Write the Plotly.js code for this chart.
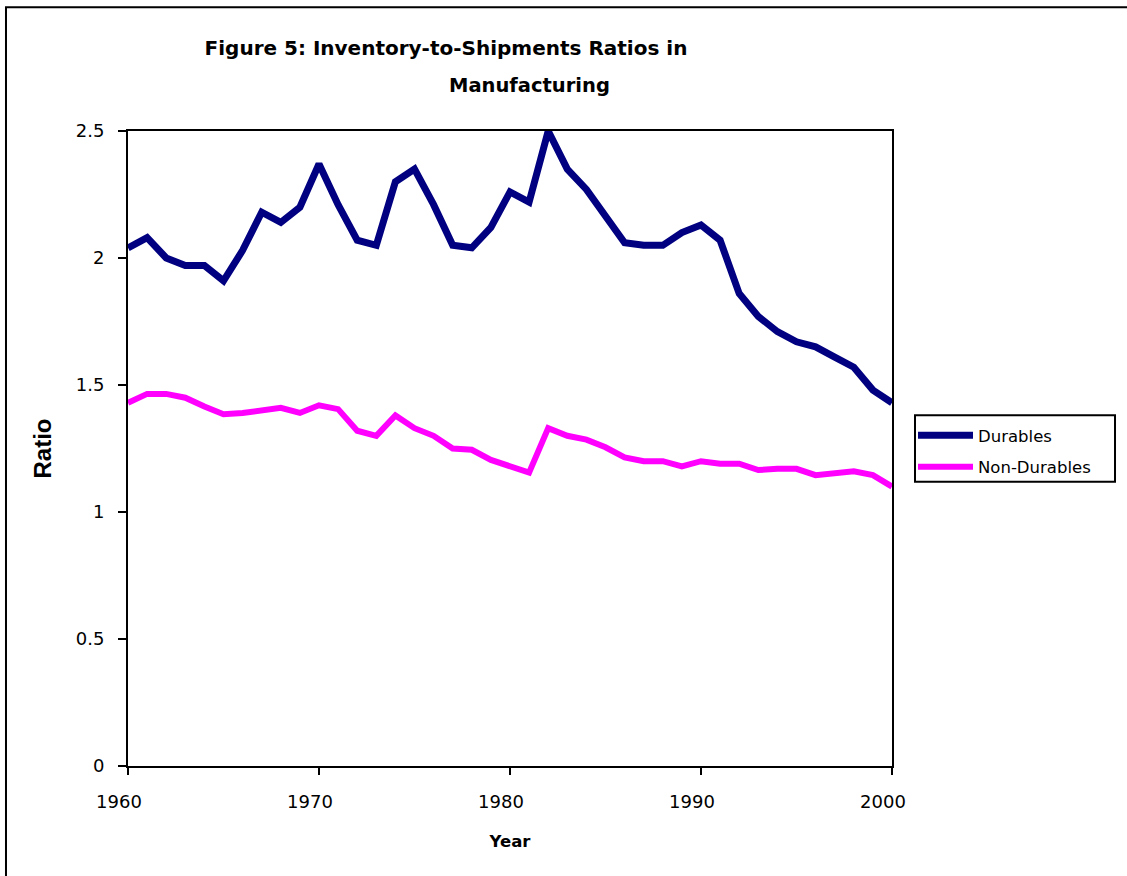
<!DOCTYPE html>
<html><head><meta charset="utf-8">
<script src="https://cdn.plot.ly/plotly-3.0.1.min.js"></script>
<style>html,body{margin:0;padding:0;background:#fff}#chart{width:1127px;height:876px}</style>
</head><body><div id="chart"></div>
<script>
const years = [1960,1961,1962,1963,1964,1965,1966,1967,1968,1969,
               1970,1971,1972,1973,1974,1975,1976,1977,1978,1979,
               1980,1981,1982,1983,1984,1985,1986,1987,1988,1989,
               1990,1991,1992,1993,1994,1995,1996,1997,1998,1999,2000];
const durables = [2.04,2.08,2.00,1.97,1.97,1.91,2.03,2.18,2.14,2.20,
                  2.37,2.21,2.07,2.05,2.30,2.35,2.21,2.05,2.04,2.12,
                  2.26,2.22,2.50,2.35,2.27,2.16,2.06,2.05,2.05,2.10,
                  2.13,2.07,1.86,1.77,1.71,1.67,1.65,1.61,1.57,1.48,1.43];
const nonDurables = [1.43,1.465,1.465,1.45,1.415,1.385,1.39,1.40,1.41,1.39,
                     1.42,1.405,1.32,1.30,1.38,1.33,1.30,1.25,1.245,1.205,
                     1.18,1.155,1.33,1.30,1.285,1.255,1.215,1.20,1.20,1.18,
                     1.20,1.19,1.19,1.165,1.17,1.17,1.145,1.15,1.16,1.145,1.10];
const seriesNames = ['Durables','Non-Durables'];
const xTicks = [1960,1970,1980,1990,2000];
const yTicks = [0,0.5,1,1.5,2,2.5];
const yTickText = ['0','0.5','1','1.5','2','2.5'];

const traces = [
  {x: years, y: durables, name: seriesNames[0], type: 'scatter', mode: 'lines',
   legendgroup: 'a', line: {color: '#000080', width: 7}},
  {x: years, y: nonDurables, name: seriesNames[1], type: 'scatter', mode: 'lines',
   legendgroup: 'b', line: {color: '#FF00FF', width: 6}}
];

const layout = {
  width: 1127, height: 876,
  margin: {l: 128, r: 235, t: 131, b: 110},
  paper_bgcolor: '#ffffff', plot_bgcolor: '#ffffff',
  font: {family: 'DejaVu Sans', size: 18, color: '#000'},
  title: {text: 'Figure 5: Inventory-to-Shipments Ratios in', x: 446/1127, xanchor: 'center',
          xref: 'container', y: 1 - 48/876, yanchor: 'middle',
          font: {family: 'DejaVu Sans', size: 20, weight: 'bold', color: '#000'}},
  annotations: [{text: 'Manufacturing', xref: 'paper', yref: 'paper', x: 0.526, y: 1 + (131-85)/636,
                 xanchor: 'center', yanchor: 'middle', showarrow: false,
                 font: {family: 'DejaVu Sans', size: 19.5, weight: 'bold', color: '#000'}}],
  xaxis: {range: [1960, 2000], tickvals: xTicks, ticks: 'outside', ticklen: 7, tickwidth: 1.5,
          tickcolor: '#000', showline: true, linewidth: 2, linecolor: '#000', mirror: true,
          showgrid: false, zeroline: false, ticklabelstandoff: 11, ticklabelshift: -9,
          tickfont: {family: 'DejaVu Sans', size: 18},
          title: {text: 'Year', standoff: 25, font: {family: 'DejaVu Sans', size: 16.5, weight: 'bold'}}},
  yaxis: {range: [0, 2.5], tickvals: yTicks, ticktext: yTickText, ticks: 'outside', ticklen: 8,
          tickwidth: 1.5, tickcolor: '#000', showline: true, linewidth: 2, linecolor: '#000',
          mirror: true, showgrid: false, zeroline: false, ticklabelstandoff: 10,
          tickfont: {family: 'DejaVu Sans', size: 18},
          title: {text: 'Ratio', standoff: 17,
                  font: {family: 'Liberation Sans', size: 24, weight: 'bold'}}},
  showlegend: true,
  legend: {x: 1.0275, xanchor: 'left', y: 0.548, yanchor: 'top', borderwidth: 0,
           bgcolor: 'rgba(0,0,0,0)', tracegroupgap: 7, itemwidth: 55,
           font: {family: 'DejaVu Sans', size: 16.5, color: '#000'}},
  shapes: [
    {type: 'rect', xref: 'paper', yref: 'paper', x0: -0.1597, x1: 1.6, y0: -0.6, y1: 1.195,
     line: {color: '#000', width: 2}, fillcolor: 'rgba(0,0,0,0)', layer: 'below'},
    {type: 'rect', xref: 'paper', yref: 'paper', x0: 1.0301, x1: 1.2919, y0: 0.4476, y1: 0.5524,
     line: {color: '#000', width: 2}, fillcolor: 'rgba(0,0,0,0)'}
  ]
};

Plotly.newPlot('chart', traces, layout, {displayModeBar: false, responsive: false});
</script></body></html>
